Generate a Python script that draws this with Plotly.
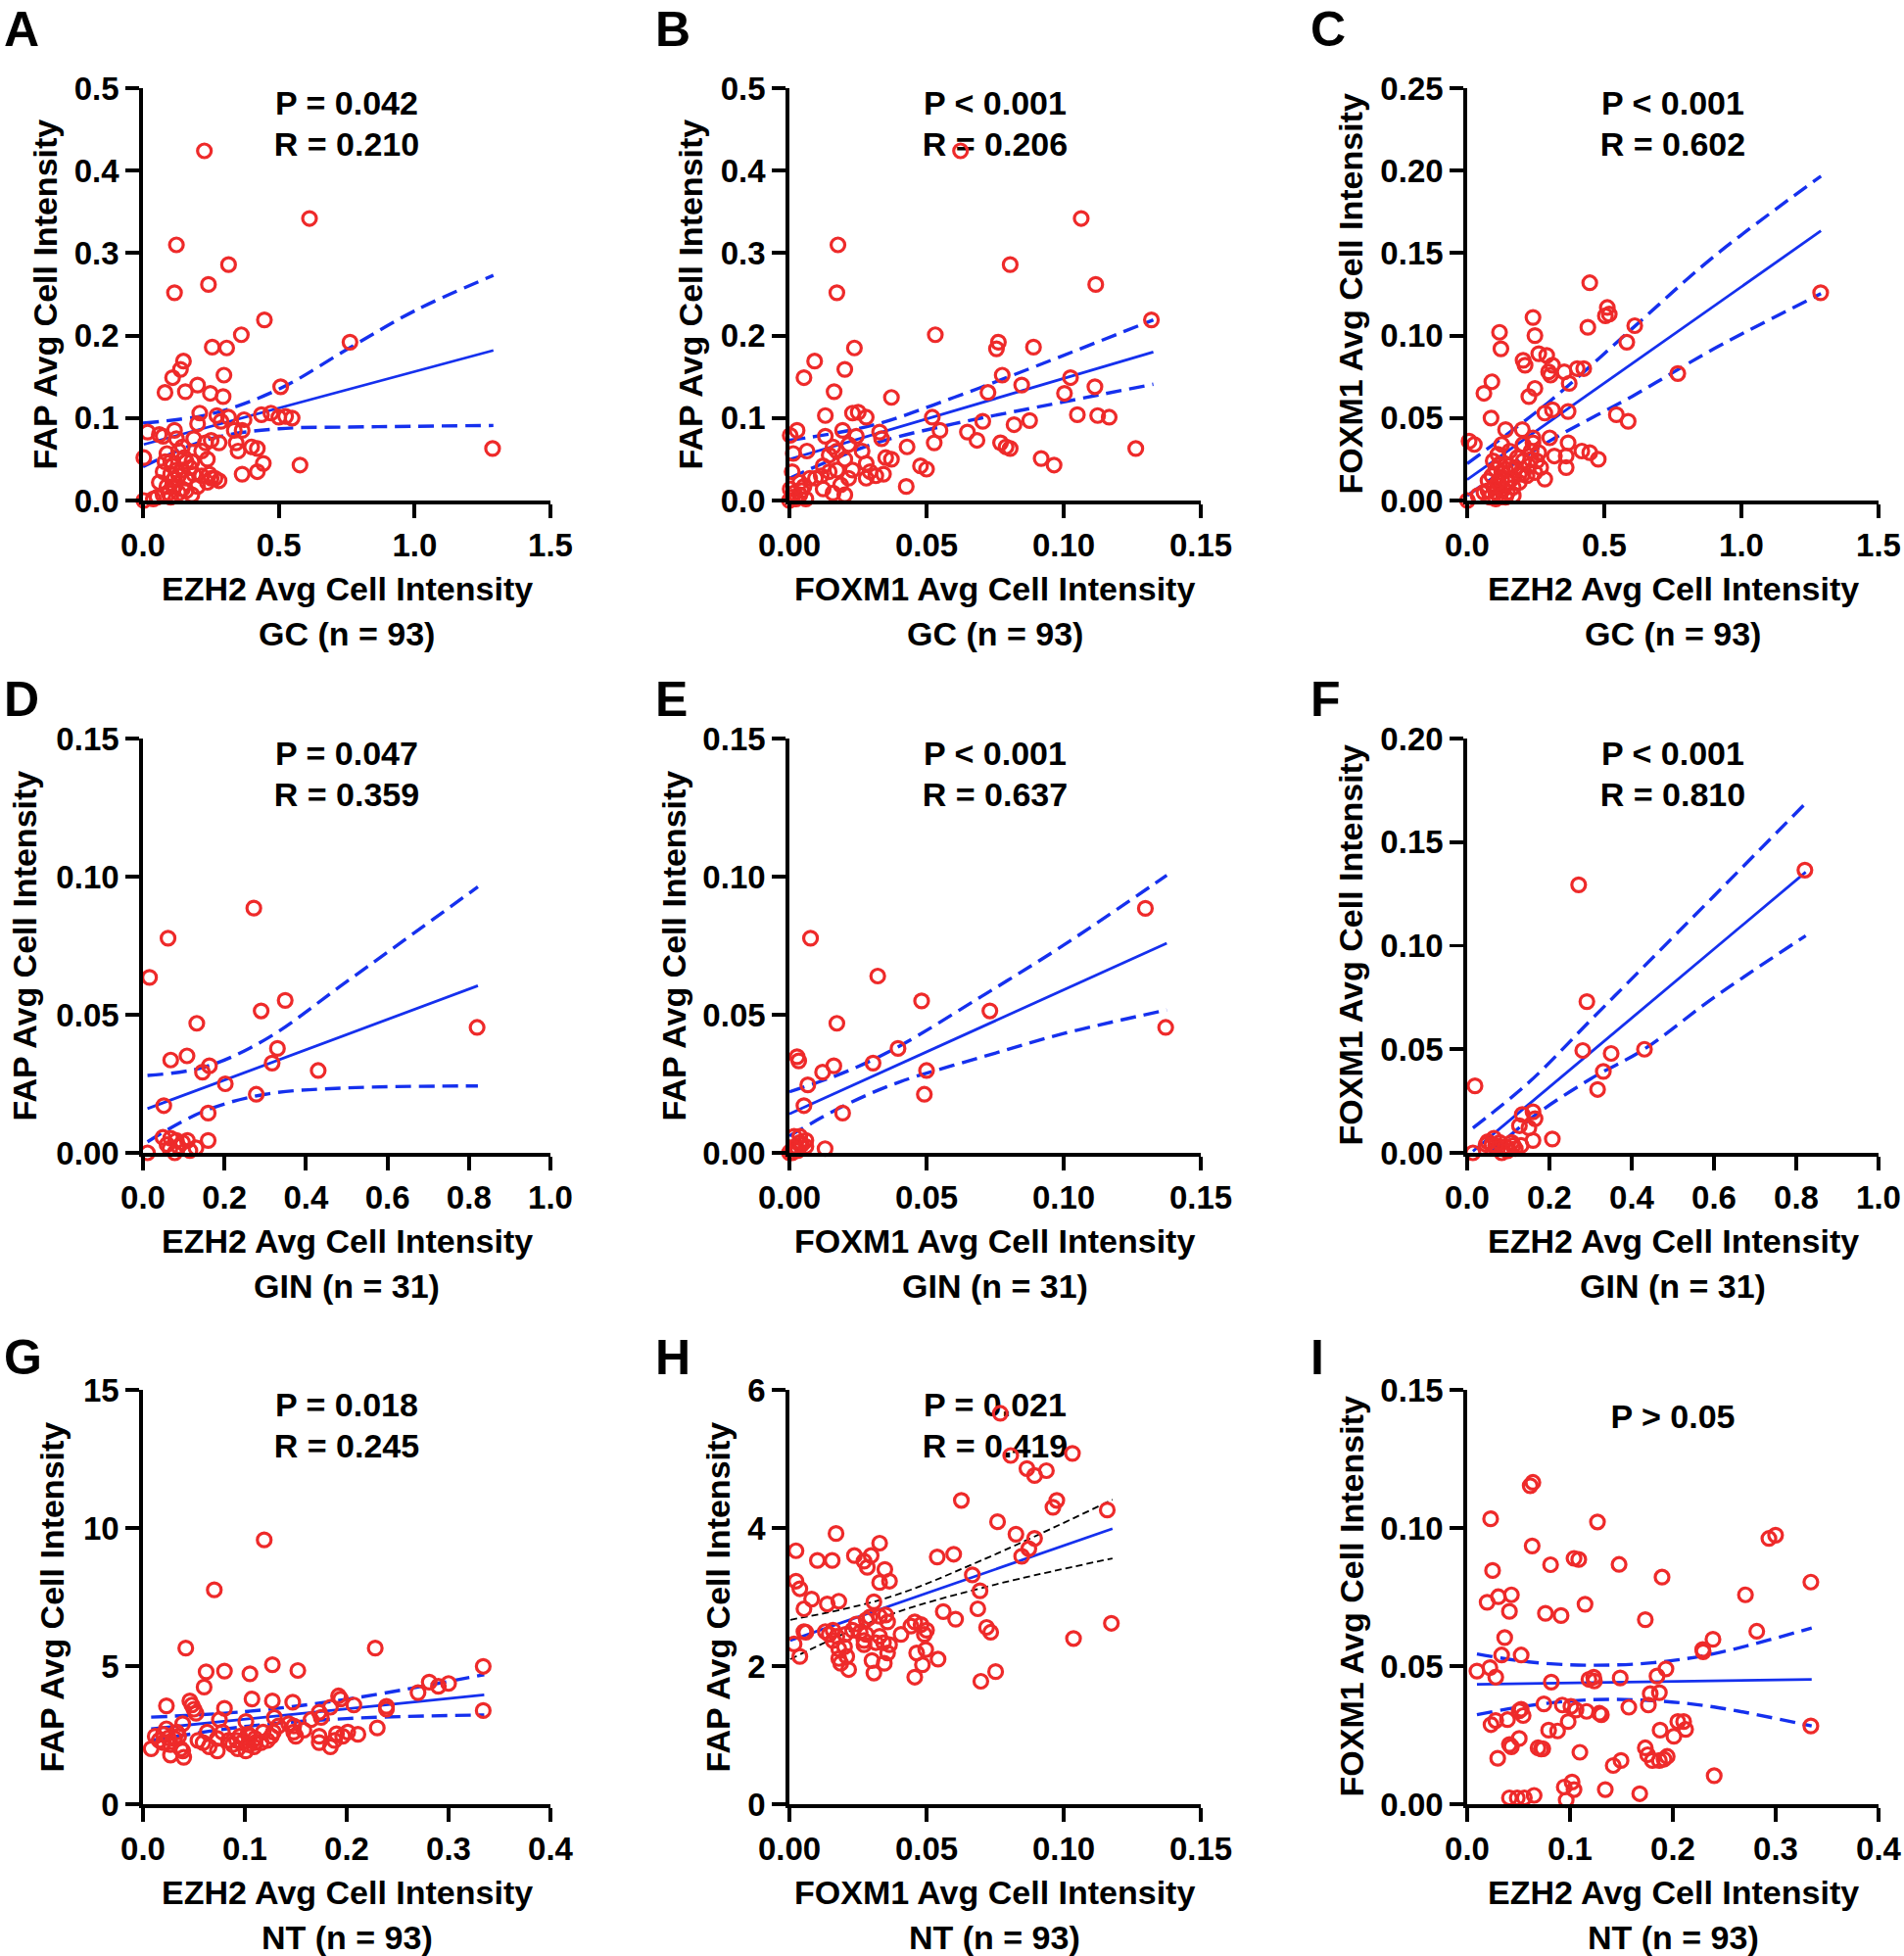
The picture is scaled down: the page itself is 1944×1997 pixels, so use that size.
import plotly.graph_objects as go

# ---------------- DATA ----------------
# GC, panel A: EZH2 (x) vs FAP (y)
a_ezh2 = [0.226,0.613,0.123,0.315,0.116,0.241,0.447,0.362,0.762,0.255,0.308,0.149,0.138,0.109,0.298,0.081,0.156,0.201,0.248,0.295,
          0.507,0.209,0.272,0.315,0.372,0.287,0.436,0.471,0.500,0.525,0.549,0.201,0.336,0.365,0.017,0.060,0.074,0.116,0.123,0.187,
          0.230,0.251,0.280,0.343,0.400,0.421,0.003,0.088,0.131,0.145,0.216,0.350,0.102,0.159,0.180,0.237,0.443,0.578,1.287,0.074,
          0.102,0.131,0.365,0.421,0.216,0.251,0.280,0.237,0.159,0.187,0.088,0.116,0.145,0.201,0.052,0.102,0.131,0.180,0.003,0.074,
          0.159,0.109,0.123,0.173,0.081,0.152,0.060,0.265,0.244,0.038,0.095,0.145,0.116]
a_fap = [0.424,0.342,0.310,0.286,0.252,0.262,0.219,0.201,0.192,0.186,0.185,0.169,0.159,0.149,0.152,0.131,0.132,0.140,0.130,0.126,
         0.138,0.106,0.103,0.101,0.098,0.096,0.104,0.106,0.101,0.102,0.100,0.093,0.085,0.085,0.083,0.080,0.078,0.085,0.075,0.075,
         0.070,0.073,0.070,0.070,0.065,0.063,0.052,0.057,0.060,0.065,0.060,0.060,0.047,0.047,0.047,0.050,0.045,0.043,0.063,0.035,
         0.032,0.030,0.032,0.035,0.030,0.027,0.024,0.022,0.027,0.032,0.017,0.017,0.014,0.017,0.004,0.004,0.009,0.007,0.000,0.007,
         0.012,0.042,0.037,0.040,0.047,0.052,0.022,0.027,0.032,0.002,0.009,0.037,0.027]
a_fit_x = [0.003, 1.29]
a_fit_y = [0.068, 0.182]
a_ci_x = [0.0, 0.25, 0.5, 0.76, 1.0, 1.29]
a_ci_hi = [0.094, 0.105, 0.135, 0.185, 0.230, 0.273]
a_ci_lo = [0.041, 0.075, 0.087, 0.089, 0.090, 0.091]

# GC, panel B: FOXM1 (x) vs FAP (y)
b_foxm1 = [0.0624,0.1064,0.0177,0.0805,0.0173,0.1117,0.132,0.0532,0.0762,0.0755,0.089,0.0237,0.0092,0.0202,0.0053,0.0776,0.1025,0.0163,0.0724,0.0847,
           0.1003,0.1114,0.0372,0.0131,0.0230,0.0251,0.028,0.0521,0.0876,0.105,0.1124,0.1166,0.0705,0.0028,0.0003,0.0194,0.0329,0.0336,0.0549,0.0649,
           0.0819,0.0131,0.0244,0.0684,0.0528,0.077,0.079,0.0805,0.1263,0.0014,0.0064,0.0159,0.0216,0.0265,0.0429,0.0351,0.0372,0.0145,0.0173,0.0202,
           0.0918,0.0965,0.0478,0.05,0.028,0.001,0.0123,0.0074,0.0095,0.0116,0.0145,0.0173,0.0216,0.028,0.0294,0.0315,0.0343,0.0426,0.0123,0.0159,
           0.0202,0.0003,0.0024,0.0038,0.0045,0.0017,0.0,0.001,0.0053,0.006,0.0038,0.0187,0.023]
b_fap = [0.424,0.342,0.310,0.286,0.252,0.262,0.219,0.201,0.192,0.184,0.186,0.185,0.169,0.159,0.149,0.152,0.149,0.132,0.131,0.140,
         0.130,0.138,0.125,0.103,0.106,0.107,0.101,0.101,0.097,0.104,0.103,0.101,0.096,0.085,0.079,0.085,0.083,0.075,0.085,0.083,
         0.092,0.078,0.078,0.073,0.070,0.070,0.065,0.063,0.063,0.057,0.060,0.065,0.068,0.060,0.065,0.052,0.050,0.055,0.060,0.050,
         0.051,0.043,0.042,0.038,0.045,0.035,0.042,0.027,0.027,0.030,0.035,0.037,0.027,0.027,0.035,0.030,0.032,0.017,0.014,0.009,
         0.007,0.014,0.002,0.007,0.012,0.009,0.0,0.004,0.017,0.002,0.022,0.019,0.037]
b_fit_x = [0.0, 0.1327]
b_fit_y = [0.050, 0.180]
b_ci_x = [0.0, 0.03, 0.06, 0.09, 0.1327]
b_ci_hi = [0.073, 0.091, 0.125, 0.163, 0.219]
b_ci_lo = [0.027, 0.068, 0.093, 0.113, 0.141]

# GC, panel C: EZH2 (x) vs FOXM1 (y)
c_ezh2 = [0.447,0.511,0.518,0.504,0.240,0.118,0.247,0.611,0.44,0.123,0.582,0.261,0.29,0.204,0.211,0.311,0.297,0.304,0.354,0.401,
          0.425,0.09,0.372,0.061,0.247,0.225,0.768,0.283,0.311,0.368,0.087,0.544,0.587,0.14,0.201,0.007,0.026,0.126,0.301,0.24,
          0.368,0.418,0.447,0.478,0.318,0.361,0.361,0.283,1.289,0.001,0.204,0.233,0.183,0.204,0.225,0.254,0.268,0.247,0.218,0.19,
          0.161,0.14,0.118,0.104,0.09,0.076,0.126,0.147,0.168,0.168,0.133,0.104,0.083,0.061,0.04,0.118,0.147,0.097,0.126,0.154,
          0.176,0.204,0.233,0.261,0.24,0.111,0.14,0.076,0.104,0.19,0.155,0.112,0.095]
c_foxm1 = [0.132,0.117,0.113,0.112,0.111,0.102,0.100,0.106,0.105,0.092,0.096,0.089,0.088,0.085,0.082,0.082,0.078,0.076,0.078,0.080,
           0.080,0.072,0.071,0.065,0.068,0.063,0.077,0.053,0.055,0.054,0.050,0.052,0.048,0.043,0.043,0.036,0.034,0.034,0.038,0.038,
           0.035,0.030,0.029,0.025,0.027,0.027,0.020,0.013,0.126,0.0,0.034,0.030,0.026,0.024,0.021,0.024,0.020,0.017,0.015,0.016,
           0.013,0.019,0.022,0.019,0.015,0.012,0.013,0.011,0.008,0.003,0.007,0.005,0.002,0.005,0.003,0.002,0.005,0.008,0.017,0.021,
           0.020,0.016,0.025,0.029,0.035,0.011,0.002,0.006,0.001,0.011,0.030,0.028,0.024]
c_fit_x = [0.0, 1.29]
c_fit_y = [0.0127, 0.1635]
c_ci_x = [0.0, 0.3, 0.6, 0.9, 1.29]
c_ci_hi = [0.0224, 0.060, 0.104, 0.148, 0.1966]
c_ci_lo = [0.003, 0.036, 0.063, 0.092, 0.1254]

# GIN, panel D: EZH2 (x) vs FAP (y)
d_ezh2 = [0.272,0.0615,0.016,0.349,0.290,0.132,0.820,0.330,0.108,0.068,0.163,0.146,0.317,0.430,0.202,0.051,
          0.278,0.160,0.160,0.011,0.049,0.068,0.082,0.109,0.066,0.078,0.087,0.115,0.130,0.059,0.097]
d_fap = [0.0886,0.0777,0.0635,0.0552,0.0514,0.0469,0.0454,0.0378,0.0351,0.0336,0.0315,0.0292,0.0325,0.0298,0.0250,0.0171,
         0.0212,0.0144,0.0045,0.0,0.0056,0.0053,0.0045,0.0045,0.0015,0.0,0.0023,0.0008,0.0018,0.003,0.0038]
d_fit_x = [0.011, 0.822]
d_fit_y = [0.0160, 0.0605]
d_ci_x = [0.011, 0.15, 0.3, 0.5, 0.822]
d_ci_hi = [0.028, 0.031, 0.041, 0.062, 0.0963]
d_ci_lo = [0.004, 0.0151, 0.0212, 0.0235, 0.0242]

# GIN, panel E: FOXM1 (x) vs FAP (y)
e_foxm1 = [0.1298,0.0077,0.0322,0.0482,0.0731,0.1372,0.0173,0.0396,0.0028,0.0034,0.0162,0.0121,0.0305,0.05,0.0067,0.0053,
           0.0492,0.0194,0.013,0.0017,0.006,0.0038,0.0024,0.0003,0.001,0.0031,0.0045,0.0014,0.0,0.0038,0.006]
e_fap = [0.0885,0.0777,0.0640,0.0550,0.0514,0.0454,0.0469,0.0378,0.0348,0.0333,0.0315,0.0292,0.0325,0.0298,0.0246,0.0171,
         0.0212,0.0144,0.0015,0.006,0.0045,0.0038,0.0023,0.0003,0.0,0.0008,0.003,0.002,0.0,0.006,0.0023]
e_fit_x = [0.0, 0.1376]
e_fit_y = [0.0141, 0.0759]
e_ci_x = [0.0, 0.02, 0.04, 0.07, 0.1, 0.1376]
e_ci_hi = [0.0221, 0.0291, 0.0386, 0.0566, 0.0752, 0.1005]
e_ci_lo = [0.0061, 0.0171, 0.0256, 0.0346, 0.0432, 0.0517]

# GIN, panel F: EZH2 (x) vs FOXM1 (y)
f_ezh2 = [0.821,0.271,0.291,0.281,0.350,0.431,0.331,0.317,0.019,0.014,0.134,0.160,0.165,0.127,0.150,0.207,
          0.160,0.050,0.065,0.060,0.074,0.084,0.093,0.108,0.117,0.131,0.079,0.046,0.098,0.112,0.069]
f_foxm1 = [0.1365,0.1294,0.073,0.0494,0.048,0.050,0.0393,0.0306,0.0323,0.0,0.0185,0.0198,0.0165,0.0131,0.0121,0.0067,
           0.006,0.0054,0.0071,0.004,0.002,0.0,0.003,0.005,0.002,0.0036,0.005,0.004,0.001,0.0036,0.0036]
f_fit_x = [0.014, 0.823]
f_fit_y = [0.0008, 0.1355]
f_ci_x = [0.014, 0.15, 0.3, 0.43, 0.6, 0.823]
f_ci_hi = [0.012, 0.034, 0.064, 0.090, 0.124, 0.1688]
f_ci_lo = [-0.008, 0.0159, 0.0357, 0.050, 0.075, 0.1048]

# NT, panel G: EZH2 (x) vs FAP (y)
g_ezh2 = [0.119,0.070,0.042,0.228,0.127,0.062,0.080,0.105,0.152,0.334,0.060,0.281,0.270,0.290,0.300,0.107,0.127,0.147,0.192,0.194,
          0.046,0.048,0.050,0.052,0.023,0.080,0.184,0.207,0.239,0.239,0.334,0.173,0.129,0.165,0.175,0.075,0.039,0.101,0.133,0.143,
          0.230,0.023,0.033,0.063,0.078,0.103,0.118,0.148,0.158,0.201,0.211,0.020,0.054,0.095,0.110,0.126,0.150,0.173,0.188,0.196,
          0.008,0.016,0.027,0.027,0.040,0.037,0.065,0.073,0.088,0.093,0.101,0.109,0.116,0.173,0.184,0.020,0.031,0.059,0.084,0.092,
          0.097,0.103,0.110,0.122,0.035,0.012,0.025,0.148,0.039,0.073,0.105,0.128,0.190]
g_fap = [9.57,7.76,5.65,5.65,5.05,4.79,4.82,4.72,4.84,4.99,4.24,4.42,4.04,4.27,4.37,3.81,3.74,3.69,3.92,3.81,
         3.74,3.59,3.44,3.29,3.56,3.47,3.51,3.59,3.54,3.44,3.39,3.33,3.14,3.06,3.14,3.06,2.91,2.99,2.83,2.91,
         2.76,2.73,2.61,2.61,2.61,2.53,2.61,2.61,2.68,2.61,2.53,2.53,2.31,2.46,2.38,2.46,2.46,2.46,2.31,2.46,
         2.01,2.31,2.16,1.78,1.70,2.01,2.08,1.93,2.16,2.01,1.93,2.08,2.23,2.23,2.08,2.23,2.38,2.23,2.31,2.31,
         2.23,2.16,2.23,2.31,2.46,2.46,2.40,2.83,1.93,2.38,2.46,2.61,2.55]
g_fit_x = [0.008, 0.335]
g_fit_y = [2.73, 3.96]
g_ci_x = [0.008, 0.1, 0.2, 0.335]
g_ci_hi = [3.15, 3.35, 3.80, 4.69]
g_ci_lo = [2.31, 2.81, 3.10, 3.23]

# NT, panel H: FOXM1 (x) vs FAP (y)
h_foxm1 = [0.0769,0.0807,0.1032,0.0866,0.0894,0.0937,0.0627,0.0975,0.0961,0.1159,0.0759,0.0826,0.0894,0.0873,0.0847,0.0170,0.0024,0.0329,0.0237,0.0298,
           0.0102,0.0156,0.0272,0.0284,0.0539,0.0599,0.0348,0.0667,0.0024,0.0038,0.0329,0.0365,0.0695,0.0081,0.0053,0.0138,0.0180,0.0308,0.0687,0.0561,
           0.0606,0.0294,0.0351,0.0358,0.0280,0.0244,0.0457,0.0443,0.0500,0.0719,0.0734,0.1174,0.0053,0.0060,0.0159,0.0173,0.0145,0.0204,0.0258,0.0280,
           0.0329,0.0407,0.0492,0.1036,0.0017,0.0038,0.0159,0.0180,0.0201,0.0272,0.0272,0.0315,0.0343,0.0365,0.0358,0.0464,0.0497,0.0180,0.0209,0.0187,
           0.0216,0.0301,0.0346,0.0542,0.0485,0.0308,0.0457,0.0698,0.0752,0.0230,0.0131,0.0329,0.0480]
h_fap = [5.66,5.05,5.08,4.86,4.76,4.83,4.40,4.40,4.30,4.26,4.09,3.91,3.85,3.70,3.59,3.92,3.67,3.78,3.60,3.60,
         3.53,3.53,3.52,3.43,3.58,3.62,3.40,3.32,3.23,3.12,3.21,3.23,3.09,2.97,2.83,2.90,2.94,2.93,2.83,2.79,
         2.68,2.71,2.74,2.64,2.67,2.61,2.64,2.58,2.52,2.56,2.49,2.62,2.50,2.49,2.52,2.43,2.46,2.46,2.49,2.46,
         2.43,2.46,2.46,2.40,2.32,2.14,2.37,2.25,2.28,2.37,2.31,2.34,2.34,2.31,2.19,2.19,2.24,2.11,2.14,2.04,
         1.95,2.08,2.04,2.10,2.02,1.90,1.84,1.78,1.92,2.52,2.50,2.72,2.60]
h_fit_x = [0.0003, 0.1178]
h_fit_y = [2.37, 3.99]
h_ci_x = [0.0003, 0.035, 0.07, 0.1178]
h_ci_hi = [2.67, 2.98, 3.53, 4.41]
h_ci_lo = [2.10, 2.72, 3.13, 3.56]

# NT, panel I: EZH2 (x) vs FOXM1 (y)
i_ezh2 = [0.0613,0.0639,0.0228,0.1267,0.2934,0.2999,0.0632,0.1039,0.1085,0.0247,0.0811,0.1477,0.1895,0.3342,0.0194,0.0304,0.0430,0.0411,0.1146,0.0761,
          0.0913,0.2706,0.1732,0.0365,0.2816,0.2390,0.0335,0.0525,0.2295,0.0095,0.0221,0.0278,0.0818,0.1184,0.1237,0.1488,0.1846,0.1933,0.1869,0.0746,
          0.0925,0.1058,0.1009,0.0525,0.0544,0.0506,0.1161,0.1286,0.1305,0.1572,0.1762,0.0232,0.0278,0.0392,0.0982,0.0792,0.0879,0.1876,0.2010,0.2048,
          0.2105,0.2124,0.3342,0.0411,0.0506,0.0430,0.0689,0.0735,0.1096,0.0297,0.1420,0.1496,0.1732,0.1755,0.1801,0.1869,0.1914,0.1945,0.2402,0.0944,
          0.1020,0.1039,0.0963,0.1343,0.1678,0.0411,0.0487,0.0556,0.0651,0.2290,0.0720,0.1230,0.1780]
i_foxm1 = [0.1153,0.1165,0.1033,0.1022,0.0962,0.0974,0.0935,0.0890,0.0886,0.0846,0.0867,0.0868,0.0822,0.0804,0.0731,0.0751,0.0758,0.0698,0.0724,0.0691,
           0.0683,0.0758,0.0668,0.0603,0.0626,0.0597,0.0540,0.0540,0.0552,0.0482,0.0494,0.0460,0.0442,0.0452,0.0446,0.0457,0.0464,0.0490,0.0404,0.0363,
           0.0359,0.0341,0.0354,0.0344,0.0321,0.0338,0.0336,0.0329,0.0324,0.0351,0.0359,0.0288,0.0303,0.0306,0.0299,0.0268,0.0265,0.0268,0.0246,0.0299,
           0.0299,0.0271,0.0283,0.0216,0.0238,0.0208,0.0204,0.0201,0.0188,0.0166,0.0140,0.0158,0.0204,0.0179,0.0158,0.0158,0.0163,0.0173,0.0103,0.0062,
           0.0080,0.0053,0.0015,0.0053,0.0038,0.0023,0.0023,0.0023,0.0032,0.0560,0.0200,0.0460,0.0400]
i_fit_x = [0.0095, 0.335]
i_fit_y = [0.0434, 0.0452]
i_ci_x = [0.0095, 0.06, 0.12, 0.18, 0.24, 0.335]
i_ci_hi = [0.0544, 0.0515, 0.0503, 0.0512, 0.0545, 0.0638]
i_ci_lo = [0.0324, 0.0357, 0.0378, 0.0375, 0.0352, 0.0283]

# tick values / labels
ticks_ezh2_gc = [0, 0.5, 1.0, 1.5];        labels_ezh2_gc = ["0.0", "0.5", "1.0", "1.5"]
ticks_foxm1 = [0, 0.05, 0.10, 0.15];       labels_foxm1 = ["0.00", "0.05", "0.10", "0.15"]
ticks_ezh2_gin = [0, 0.2, 0.4, 0.6, 0.8, 1.0]; labels_ezh2_gin = ["0.0", "0.2", "0.4", "0.6", "0.8", "1.0"]
ticks_ezh2_nt = [0, 0.1, 0.2, 0.3, 0.4];   labels_ezh2_nt = ["0.0", "0.1", "0.2", "0.3", "0.4"]
ticks_fap_gc = [0, 0.1, 0.2, 0.3, 0.4, 0.5]; labels_fap_gc = ["0.0", "0.1", "0.2", "0.3", "0.4", "0.5"]
ticks_foxm1_gc = [0, 0.05, 0.10, 0.15, 0.20, 0.25]; labels_foxm1_gc = ["0.00", "0.05", "0.10", "0.15", "0.20", "0.25"]
ticks_015 = [0, 0.05, 0.10, 0.15];         labels_015 = ["0.00", "0.05", "0.10", "0.15"]
ticks_020 = [0, 0.05, 0.10, 0.15, 0.20];   labels_020 = ["0.00", "0.05", "0.10", "0.15", "0.20"]
ticks_fap_nt_g = [0, 5, 10, 15];           labels_fap_nt_g = ["0", "5", "10", "15"]
ticks_fap_nt_h = [0, 2, 4, 6];             labels_fap_nt_h = ["0", "2", "4", "6"]

# ---------------- STYLE / LAYOUT ----------------
W, H = 1944, 1997
COLS = [(146, 562), (806, 1226), (1498, 1918)]
ROWS = [(90, 511), (754, 1177), (1419, 1842)]
FONT = "Liberation Sans, Arial, Helvetica, sans-serif"
RED = "#EE2A2A"
BLUE = "#1530EE"

panels = [
    dict(letter="A", r=0, c=0, x=a_ezh2, y=a_fap, fx=a_fit_x, fy=a_fit_y, cx=a_ci_x, chi=a_ci_hi, clo=a_ci_lo,
         xt=(ticks_ezh2_gc, labels_ezh2_gc), yt=(ticks_fap_gc, labels_fap_gc),
         xtitle="EZH2 Avg Cell Intensity", group="GC (n = 93)", ytitle="FAP Avg Cell Intensity", yoff=100,
         stats=["P = 0.042", "R = 0.210"]),
    dict(letter="B", r=0, c=1, x=b_foxm1, y=b_fap, fx=b_fit_x, fy=b_fit_y, cx=b_ci_x, chi=b_ci_hi, clo=b_ci_lo,
         xt=(ticks_foxm1, labels_foxm1), yt=(ticks_fap_gc, labels_fap_gc),
         xtitle="FOXM1 Avg Cell Intensity", group="GC (n = 93)", ytitle="FAP Avg Cell Intensity", yoff=101,
         stats=["P < 0.001", "R = 0.206"]),
    dict(letter="C", r=0, c=2, x=c_ezh2, y=c_foxm1, fx=c_fit_x, fy=c_fit_y, cx=c_ci_x, chi=c_ci_hi, clo=c_ci_lo,
         xt=(ticks_ezh2_gc, labels_ezh2_gc), yt=(ticks_foxm1_gc, labels_foxm1_gc),
         xtitle="EZH2 Avg Cell Intensity", group="GC (n = 93)", ytitle="FOXM1 Avg Cell Intensity", yoff=119,
         stats=["P < 0.001", "R = 0.602"]),
    dict(letter="D", r=1, c=0, x=d_ezh2, y=d_fap, fx=d_fit_x, fy=d_fit_y, cx=d_ci_x, chi=d_ci_hi, clo=d_ci_lo,
         xt=(ticks_ezh2_gin, labels_ezh2_gin), yt=(ticks_015, labels_015),
         xtitle="EZH2 Avg Cell Intensity", group="GIN (n = 31)", ytitle="FAP Avg Cell Intensity", yoff=121,
         stats=["P = 0.047", "R = 0.359"]),
    dict(letter="E", r=1, c=1, x=e_foxm1, y=e_fap, fx=e_fit_x, fy=e_fit_y, cx=e_ci_x, chi=e_ci_hi, clo=e_ci_lo,
         xt=(ticks_foxm1, labels_foxm1), yt=(ticks_015, labels_015),
         xtitle="FOXM1 Avg Cell Intensity", group="GIN (n = 31)", ytitle="FAP Avg Cell Intensity", yoff=118,
         stats=["P < 0.001", "R = 0.637"]),
    dict(letter="F", r=1, c=2, x=f_ezh2, y=f_foxm1, fx=f_fit_x, fy=f_fit_y, cx=f_ci_x, chi=f_ci_hi, clo=f_ci_lo,
         xt=(ticks_ezh2_gin, labels_ezh2_gin), yt=(ticks_020, labels_020),
         xtitle="EZH2 Avg Cell Intensity", group="GIN (n = 31)", ytitle="FOXM1 Avg Cell Intensity", yoff=119,
         stats=["P < 0.001", "R = 0.810"]),
    dict(letter="G", r=2, c=0, x=g_ezh2, y=g_fap, fx=g_fit_x, fy=g_fit_y, cx=g_ci_x, chi=g_ci_hi, clo=g_ci_lo,
         xt=(ticks_ezh2_nt, labels_ezh2_nt), yt=(ticks_fap_nt_g, labels_fap_nt_g),
         xtitle="EZH2 Avg Cell Intensity", group="NT (n = 93)", ytitle="FAP Avg Cell Intensity", yoff=94,
         stats=["P = 0.018", "R = 0.245"]),
    dict(letter="H", r=2, c=1, x=h_foxm1, y=h_fap, fx=h_fit_x, fy=h_fit_y, cx=h_ci_x, chi=h_ci_hi, clo=h_ci_lo,
         xt=(ticks_foxm1, labels_foxm1), yt=(ticks_fap_nt_h, labels_fap_nt_h),
         xtitle="FOXM1 Avg Cell Intensity", group="NT (n = 93)", ytitle="FAP Avg Cell Intensity", yoff=74,
         stats=["P = 0.021", "R = 0.419"], ci_black=True),
    dict(letter="I", r=2, c=2, x=i_ezh2, y=i_foxm1, fx=i_fit_x, fy=i_fit_y, cx=i_ci_x, chi=i_ci_hi, clo=i_ci_lo,
         xt=(ticks_ezh2_nt, labels_ezh2_nt), yt=(ticks_015, labels_015),
         xtitle="EZH2 Avg Cell Intensity", group="NT (n = 93)", ytitle="FOXM1 Avg Cell Intensity", yoff=119,
         stats=["P > 0.05"]),
]

LETTER_X = [2, 667, 1336]     # left edges of the panel letters
LETTER_Y = [0, 684, 1356]     # top edges of the panel letters

fig = go.Figure()
annotations = []
layout_axes = {}

def fx_(p):
    return p / W

def fy_(p):
    return 1 - p / H

for k, p in enumerate(panels, start=1):
    c0, c1 = COLS[p["c"]]
    r0, r1 = ROWS[p["r"]]
    xs = "x" if k == 1 else f"x{k}"
    ys = "y" if k == 1 else f"y{k}"
    xmax = p["xt"][0][-1]
    ymax = p["yt"][0][-1]

    axis_common = dict(showline=True, linecolor="black", linewidth=3.8, ticks="outside", ticklen=14,
                       tickwidth=3.8, tickcolor="black", showgrid=False, zeroline=False, fixedrange=True,
                       automargin=False, ticklabeloverflow="allow",
                       tickfont=dict(family=FONT, size=33, color="black", weight="bold"), tickmode="array")
    layout_axes["xaxis" if k == 1 else f"xaxis{k}"] = dict(
        domain=[fx_(c0), fx_(c1)], range=[0, xmax], anchor=ys,
        tickvals=p["xt"][0], ticktext=p["xt"][1], **axis_common)
    layout_axes["yaxis" if k == 1 else f"yaxis{k}"] = dict(
        domain=[fy_(r1), fy_(r0)], range=[0, ymax], anchor=xs,
        tickvals=p["yt"][0], ticktext=p["yt"][1], **axis_common)

    # statistics text (drawn in the plot layer, beneath the markers)
    plot_h = r1 - r0
    offs = [18, 60] if len(p["stats"]) == 2 else [30]
    for txt, off in zip(p["stats"], offs):
        fig.add_trace(go.Scatter(x=[xmax / 2], y=[ymax * (1 - off / plot_h)], mode="text",
                                 text=[f"<b>{txt}</b>"], textposition="middle center",
                                 textfont=dict(family=FONT, size=34, color="black"),
                                 xaxis=xs, yaxis=ys, cliponaxis=False, hoverinfo="skip"))

    # confidence band + fit
    if p.get("ci_black"):
        ci_line = dict(color="black", width=1.8, dash="7px,4px", shape="spline")
    else:
        ci_line = dict(color=BLUE, width=3.4, dash="16px,8px", shape="spline")
    fit_line = dict(color=BLUE, width=2.8)
    for cy in (p["chi"], p["clo"]):
        fig.add_trace(go.Scatter(x=p["cx"], y=cy, mode="lines", line=ci_line,
                                 xaxis=xs, yaxis=ys, hoverinfo="skip"))
    fig.add_trace(go.Scatter(x=p["fx"], y=p["fy"], mode="lines", line=fit_line,
                             xaxis=xs, yaxis=ys, hoverinfo="skip"))

    # points
    fig.add_trace(go.Scatter(x=p["x"], y=p["y"], mode="markers",
                             marker=dict(symbol="circle-open", size=14, color=RED, line=dict(width=3.2)),
                             xaxis=xs, yaxis=ys, cliponaxis=False))

    # axis titles
    cx_px = (c0 + c1) / 2
    annotations.append(dict(x=fx_(cx_px), y=fy_(r1 + 90), xref="paper", yref="paper",
                            text=f"<b>{p['xtitle']}</b>", showarrow=False, xanchor="center", yanchor="middle",
                            font=dict(family=FONT, size=34, color="black")))
    annotations.append(dict(x=fx_(cx_px), y=fy_(r1 + 136), xref="paper", yref="paper",
                            text=f"<b>{p['group']}</b>", showarrow=False, xanchor="center", yanchor="middle",
                            font=dict(family=FONT, size=34, color="black")))
    annotations.append(dict(x=fx_(c0 - p["yoff"]), y=fy_((r0 + r1) / 2), xref="paper", yref="paper",
                            text=f"<b>{p['ytitle']}</b>", showarrow=False, textangle=-90,
                            xanchor="center", yanchor="middle",
                            font=dict(family=FONT, size=34, color="black")))
    # panel letter
    annotations.append(dict(x=fx_(LETTER_X[p["c"]]), y=fy_(LETTER_Y[p["r"]]), xref="paper", yref="paper",
                            text=f"<b>{p['letter']}</b>", showarrow=False, xanchor="left", yanchor="top",
                            font=dict(family=FONT, size=50, color="black")))

fig.update_layout(width=W, height=H, margin=dict(l=0, r=0, t=0, b=0, autoexpand=False), showlegend=False,
                  paper_bgcolor="white", plot_bgcolor="white", annotations=annotations, **layout_axes)

# remove the default page margin so the figure sits exactly at the window's top-left corner
fig.write_html("out.html", config={"displayModeBar": False, "staticPlot": True},
               post_script="document.body.style.margin='0';document.body.style.overflow='hidden';")
